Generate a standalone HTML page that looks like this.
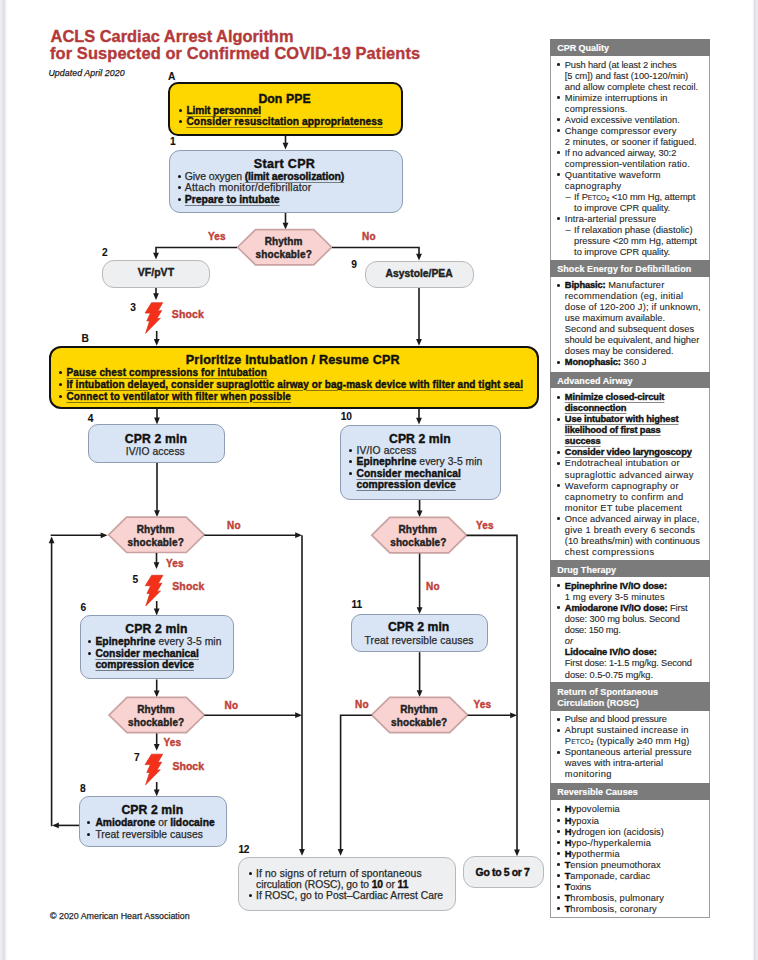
<!DOCTYPE html>
<html><head><meta charset="utf-8"><style>
*{margin:0;padding:0;box-sizing:border-box}
html,body{width:758px;height:960px;overflow:hidden;background:#fff;font-family:"Liberation Sans", sans-serif}
.t{position:absolute;white-space:nowrap;line-height:1;color:#222}
.t u{text-decoration:underline;text-decoration-thickness:1px;text-underline-offset:1.5px;text-decoration-color:rgba(20,20,20,.5)}
.t b{color:#111}
.tr{-webkit-text-stroke:0.25px currentColor}
.t b, .tb{-webkit-text-stroke:0.4px currentColor}
.b{position:absolute}
svg{position:absolute;left:0;top:0}
#edgeL{position:absolute;left:0;top:0;width:8px;height:960px;background:linear-gradient(to right,#f0f0f4 0px,#e6e6eb 2.5px,#dcdce2 4px,#f4f4f7 6px,#fff 8px)}
#edgeR{position:absolute;left:750px;top:0;width:8px;height:960px;background:linear-gradient(to right,#fff 2px,#f4f4f7 3.5px,#dcdce2 4.5px,#e6e6eb 6px,#f0f0f4 8px)}
.sc{font-size:0.72em}
sub{font-size:0.6em;vertical-align:-1px;line-height:0}

.pt{-webkit-text-stroke:0.12px currentColor}
.pt b{letter-spacing:-0.12px}
.t.hd{-webkit-text-stroke:0.15px currentColor}
.t.ti{-webkit-text-stroke:0.35px currentColor}
.t.lab{-webkit-text-stroke:0.1px currentColor}
</style></head><body>
<div id="edgeL"></div><div id="edgeR"></div>

<svg width="758" height="960" viewBox="0 0 758 960"><polyline points="285.5,135.5 285.5,143" fill="none" stroke="#1a1a1a" stroke-width="1.6" stroke-linejoin="miter" stroke-linecap="butt"/><polygon points="285.50,149.50 282.60,142.70 288.40,142.70" fill="#1a1a1a"/><polyline points="285.5,212.7 285.5,223" fill="none" stroke="#1a1a1a" stroke-width="1.6" stroke-linejoin="miter" stroke-linecap="butt"/><polygon points="285.50,229.50 282.60,222.70 288.40,222.70" fill="#1a1a1a"/><polygon points="237.50,247.25 255.50,229.70 313.70,229.70 331.70,247.25 313.70,264.80 255.50,264.80" fill="#f9d3d2" stroke="#c9a2a2" stroke-width="1.7"/><polyline points="237,247.5 156,247.5 156,253" fill="none" stroke="#1a1a1a" stroke-width="1.6" stroke-linejoin="miter" stroke-linecap="butt"/><polygon points="156.00,259.50 153.10,252.70 158.90,252.70" fill="#1a1a1a"/><polyline points="332,247.5 419,247.5 419,254" fill="none" stroke="#1a1a1a" stroke-width="1.6" stroke-linejoin="miter" stroke-linecap="butt"/><polygon points="419.00,260.50 416.10,253.70 421.90,253.70" fill="#1a1a1a"/><polyline points="156,287.5 156,294" fill="none" stroke="#1a1a1a" stroke-width="1.6" stroke-linejoin="miter" stroke-linecap="butt"/><polygon points="156.00,300.00 153.10,293.20 158.90,293.20" fill="#1a1a1a"/><polygon points="151.50,302.70 162.70,302.70 157.90,311.10 161.70,310.50 156.90,318.80 160.30,318.30 145.60,333.30 149.60,321.00 146.80,320.90 150.40,313.10 145.10,313.10" fill="#f4301a" stroke="#d8301c" stroke-width="0.7" stroke-linejoin="miter"/><polyline points="156.7,331 156.7,339" fill="none" stroke="#1a1a1a" stroke-width="1.6" stroke-linejoin="miter" stroke-linecap="butt"/><polygon points="156.70,345.80 153.80,339.00 159.60,339.00" fill="#1a1a1a"/><polyline points="419,288 419,339" fill="none" stroke="#1a1a1a" stroke-width="1.6" stroke-linejoin="miter" stroke-linecap="butt"/><polygon points="419.00,345.80 416.10,339.00 421.90,339.00" fill="#1a1a1a"/><polyline points="157,408.5 157,418" fill="none" stroke="#1a1a1a" stroke-width="1.6" stroke-linejoin="miter" stroke-linecap="butt"/><polygon points="157.00,424.40 154.10,417.60 159.90,417.60" fill="#1a1a1a"/><polyline points="419,408.5 419,418" fill="none" stroke="#1a1a1a" stroke-width="1.6" stroke-linejoin="miter" stroke-linecap="butt"/><polygon points="419.00,424.50 416.10,417.70 421.90,417.70" fill="#1a1a1a"/><polyline points="157,462.4 157,511" fill="none" stroke="#1a1a1a" stroke-width="1.6" stroke-linejoin="miter" stroke-linecap="butt"/><polygon points="157.00,517.00 154.10,510.20 159.90,510.20" fill="#1a1a1a"/><polyline points="419.6,500 419.6,511" fill="none" stroke="#1a1a1a" stroke-width="1.6" stroke-linejoin="miter" stroke-linecap="butt"/><polygon points="419.60,517.20 416.70,510.40 422.50,510.40" fill="#1a1a1a"/><polygon points="108.60,534.85 126.60,517.20 186.30,517.20 204.30,534.85 186.30,552.50 126.60,552.50" fill="#f9d3d2" stroke="#c9a2a2" stroke-width="1.7"/><polygon points="371.80,535.15 389.80,517.40 448.60,517.40 466.60,535.15 448.60,552.90 389.80,552.90" fill="#f9d3d2" stroke="#c9a2a2" stroke-width="1.7"/><polyline points="204.3,535.2 296,535.2" fill="none" stroke="#1a1a1a" stroke-width="1.6" stroke-linejoin="miter" stroke-linecap="butt"/><polygon points="302.00,535.20 295.20,532.30 295.20,538.10" fill="#1a1a1a"/><polyline points="302,535.2 302,850" fill="none" stroke="#1a1a1a" stroke-width="1.6" stroke-linejoin="miter" stroke-linecap="butt"/><polygon points="302.00,855.70 299.10,848.90 304.90,848.90" fill="#1a1a1a"/><polyline points="466.6,535.4 517,535.4 517,850" fill="none" stroke="#1a1a1a" stroke-width="1.6" stroke-linejoin="miter" stroke-linecap="butt"/><polygon points="517.00,856.30 514.10,849.50 519.90,849.50" fill="#1a1a1a"/><polyline points="156.5,553 156.5,563" fill="none" stroke="#1a1a1a" stroke-width="1.6" stroke-linejoin="miter" stroke-linecap="butt"/><polygon points="156.50,569.00 153.60,562.20 159.40,562.20" fill="#1a1a1a"/><polygon points="151.70,575.30 162.90,575.30 158.10,583.70 161.90,583.10 157.10,591.40 160.50,590.90 145.80,605.90 149.80,593.60 147.00,593.50 150.60,585.70 145.30,585.70" fill="#f4301a" stroke="#d8301c" stroke-width="0.7" stroke-linejoin="miter"/><polyline points="156.7,601 156.7,609" fill="none" stroke="#1a1a1a" stroke-width="1.6" stroke-linejoin="miter" stroke-linecap="butt"/><polygon points="156.70,615.40 153.80,608.60 159.60,608.60" fill="#1a1a1a"/><polyline points="419.6,553.5 419.6,608" fill="none" stroke="#1a1a1a" stroke-width="1.6" stroke-linejoin="miter" stroke-linecap="butt"/><polygon points="419.60,614.00 416.70,607.20 422.50,607.20" fill="#1a1a1a"/><polyline points="156.7,679.5 156.7,691" fill="none" stroke="#1a1a1a" stroke-width="1.6" stroke-linejoin="miter" stroke-linecap="butt"/><polygon points="156.70,697.20 153.80,690.40 159.60,690.40" fill="#1a1a1a"/><polygon points="109.00,715.05 127.00,697.40 186.40,697.40 204.40,715.05 186.40,732.70 127.00,732.70" fill="#f9d3d2" stroke="#c9a2a2" stroke-width="1.7"/><polyline points="204.4,715.2 296,715.2" fill="none" stroke="#1a1a1a" stroke-width="1.6" stroke-linejoin="miter" stroke-linecap="butt"/><polygon points="302.00,715.20 295.20,712.30 295.20,718.10" fill="#1a1a1a"/><polyline points="156.7,733.4 156.7,744" fill="none" stroke="#1a1a1a" stroke-width="1.6" stroke-linejoin="miter" stroke-linecap="butt"/><polygon points="156.70,750.70 153.80,743.90 159.60,743.90" fill="#1a1a1a"/><polygon points="151.50,754.20 162.70,754.20 157.90,762.60 161.70,762.00 156.90,770.30 160.30,769.80 145.60,784.80 149.60,772.50 146.80,772.40 150.40,764.60 145.10,764.60" fill="#f4301a" stroke="#d8301c" stroke-width="0.7" stroke-linejoin="miter"/><polyline points="156.7,782 156.7,790" fill="none" stroke="#1a1a1a" stroke-width="1.6" stroke-linejoin="miter" stroke-linecap="butt"/><polygon points="156.70,796.30 153.80,789.50 159.60,789.50" fill="#1a1a1a"/><polyline points="419.6,652.2 419.6,691" fill="none" stroke="#1a1a1a" stroke-width="1.6" stroke-linejoin="miter" stroke-linecap="butt"/><polygon points="419.60,697.10 416.70,690.30 422.50,690.30" fill="#1a1a1a"/><polygon points="371.70,714.95 389.70,697.30 449.70,697.30 467.70,714.95 449.70,732.60 389.70,732.60" fill="#f9d3d2" stroke="#c9a2a2" stroke-width="1.7"/><polyline points="371.7,715.3 340.6,715.3 340.6,850" fill="none" stroke="#1a1a1a" stroke-width="1.6" stroke-linejoin="miter" stroke-linecap="butt"/><polygon points="340.60,855.70 337.70,848.90 343.50,848.90" fill="#1a1a1a"/><polyline points="467.7,715.3 511,715.3" fill="none" stroke="#1a1a1a" stroke-width="1.6" stroke-linejoin="miter" stroke-linecap="butt"/><polygon points="517.00,715.30 510.20,712.40 510.20,718.20" fill="#1a1a1a"/><polyline points="79,825.4 58,825.4" fill="none" stroke="#1a1a1a" stroke-width="1.6" stroke-linejoin="miter" stroke-linecap="butt"/><polygon points="52.00,825.40 58.80,822.50 58.80,828.30" fill="#1a1a1a"/><polyline points="51.6,826.3 51.6,543" fill="none" stroke="#1a1a1a" stroke-width="1.6" stroke-linejoin="miter" stroke-linecap="butt"/><polygon points="51.60,536.40 48.70,543.20 54.50,543.20" fill="#1a1a1a"/><polyline points="50.7,535.3 101,535.3" fill="none" stroke="#1a1a1a" stroke-width="1.6" stroke-linejoin="miter" stroke-linecap="butt"/><polygon points="107.50,535.30 100.70,532.40 100.70,538.20" fill="#1a1a1a"/></svg>
<div class="b" style="left:168px;top:82.2px;width:235.20px;height:53.80px;background:#fed700;border:2.7px solid #111;border-radius:10px;"></div><div class="b" style="left:169px;top:149.8px;width:233.50px;height:63.00px;background:#d9e5f5;border:1.7px solid #8d9db4;border-radius:11px;"></div><div class="b" style="left:102px;top:259.5px;width:107.80px;height:28.30px;background:#eeeff1;border:1.8px solid #b9b9b9;border-radius:12px;"></div><div class="b" style="left:365.4px;top:261px;width:108.20px;height:27.20px;background:#eeeff1;border:1.8px solid #b9b9b9;border-radius:12px;"></div><div class="b" style="left:49.3px;top:345.5px;width:489.50px;height:63.60px;background:#fed700;border:2.8px solid #111;border-radius:12px;"></div><div class="b" style="left:88.4px;top:424.2px;width:136.80px;height:38.70px;background:#d9e5f5;border:1.7px solid #8d9db4;border-radius:10px;"></div><div class="b" style="left:340px;top:424.5px;width:160.50px;height:75.50px;background:#d9e5f5;border:1.7px solid #8d9db4;border-radius:10px;"></div><div class="b" style="left:79.5px;top:615.4px;width:154.40px;height:64.10px;background:#d9e5f5;border:1.7px solid #8d9db4;border-radius:10px;"></div><div class="b" style="left:351.1px;top:613.7px;width:136.70px;height:38.50px;background:#d9e5f5;border:1.7px solid #8d9db4;border-radius:10px;"></div><div class="b" style="left:79px;top:796.3px;width:147.50px;height:51.10px;background:#d9e5f5;border:1.7px solid #8d9db4;border-radius:10px;"></div><div class="b" style="left:237.6px;top:856.6px;width:218.40px;height:54.30px;background:#eeeff1;border:1.7px solid #b9b9b9;border-radius:11px;"></div><div class="b" style="left:463.4px;top:856.3px;width:80.20px;height:31.40px;background:#eeeff1;border:1.9px solid #b9b9b9;border-radius:12px;"></div><div class="b" style="left:550px;top:38.6px;width:159.5px;height:879.4px;border:1.3px solid #9c9c9c;background:#fff"></div><div class="b" style="left:550px;top:38.6px;width:159.5px;height:17.10px;background:#7b7b7b"></div><div class="b" style="left:550px;top:260px;width:159.5px;height:17.00px;background:#7b7b7b"></div><div class="b" style="left:550px;top:371.6px;width:159.5px;height:16.90px;background:#7b7b7b"></div><div class="b" style="left:550px;top:560.3px;width:159.5px;height:16.90px;background:#7b7b7b"></div><div class="b" style="left:550px;top:682.4px;width:159.5px;height:28.50px;background:#7b7b7b"></div><div class="b" style="left:550px;top:782.9px;width:159.5px;height:17.50px;background:#7b7b7b"></div>
<div class="b" style="left:179px;top:109px;width:3.1px;height:3.1px;border-radius:50%;background:#111"></div><div class="b" style="left:179px;top:120px;width:3.1px;height:3.1px;border-radius:50%;background:#111"></div><div class="b" style="left:178px;top:175px;width:3.1px;height:3.1px;border-radius:50%;background:#111"></div><div class="b" style="left:178px;top:186px;width:3.1px;height:3.1px;border-radius:50%;background:#111"></div><div class="b" style="left:178px;top:198px;width:3.1px;height:3.1px;border-radius:50%;background:#111"></div><div class="b" style="left:59px;top:371px;width:3.1px;height:3.1px;border-radius:50%;background:#111"></div><div class="b" style="left:59px;top:383px;width:3.1px;height:3.1px;border-radius:50%;background:#111"></div><div class="b" style="left:59px;top:395px;width:3.1px;height:3.1px;border-radius:50%;background:#111"></div><div class="b" style="left:349px;top:449px;width:3.1px;height:3.1px;border-radius:50%;background:#111"></div><div class="b" style="left:349px;top:460px;width:3.1px;height:3.1px;border-radius:50%;background:#111"></div><div class="b" style="left:349px;top:472px;width:3.1px;height:3.1px;border-radius:50%;background:#111"></div><div class="b" style="left:88px;top:640px;width:3.1px;height:3.1px;border-radius:50%;background:#111"></div><div class="b" style="left:88px;top:652px;width:3.1px;height:3.1px;border-radius:50%;background:#111"></div><div class="b" style="left:87px;top:821px;width:3.1px;height:3.1px;border-radius:50%;background:#111"></div><div class="b" style="left:87px;top:833px;width:3.1px;height:3.1px;border-radius:50%;background:#111"></div><div class="b" style="left:249px;top:872px;width:3.1px;height:3.1px;border-radius:50%;background:#111"></div><div class="b" style="left:249px;top:894px;width:3.1px;height:3.1px;border-radius:50%;background:#111"></div><div class="b" style="left:557px;top:63px;width:2.6px;height:2.6px;border-radius:50%;background:#222"></div><div class="b" style="left:557px;top:96px;width:2.6px;height:2.6px;border-radius:50%;background:#222"></div><div class="b" style="left:557px;top:118px;width:2.6px;height:2.6px;border-radius:50%;background:#222"></div><div class="b" style="left:557px;top:129px;width:2.6px;height:2.6px;border-radius:50%;background:#222"></div><div class="b" style="left:557px;top:151px;width:2.6px;height:2.6px;border-radius:50%;background:#222"></div><div class="b" style="left:557px;top:173px;width:2.6px;height:2.6px;border-radius:50%;background:#222"></div><div class="b" style="left:557px;top:217px;width:2.6px;height:2.6px;border-radius:50%;background:#222"></div><div class="b" style="left:557px;top:284px;width:2.6px;height:2.6px;border-radius:50%;background:#222"></div><div class="b" style="left:557px;top:361px;width:2.6px;height:2.6px;border-radius:50%;background:#222"></div><div class="b" style="left:557px;top:396px;width:2.6px;height:2.6px;border-radius:50%;background:#222"></div><div class="b" style="left:557px;top:418px;width:2.6px;height:2.6px;border-radius:50%;background:#222"></div><div class="b" style="left:557px;top:451px;width:2.6px;height:2.6px;border-radius:50%;background:#222"></div><div class="b" style="left:557px;top:462px;width:2.6px;height:2.6px;border-radius:50%;background:#222"></div><div class="b" style="left:557px;top:484px;width:2.6px;height:2.6px;border-radius:50%;background:#222"></div><div class="b" style="left:557px;top:517px;width:2.6px;height:2.6px;border-radius:50%;background:#222"></div><div class="b" style="left:557px;top:584px;width:2.6px;height:2.6px;border-radius:50%;background:#222"></div><div class="b" style="left:557px;top:606px;width:2.6px;height:2.6px;border-radius:50%;background:#222"></div><div class="b" style="left:557px;top:718px;width:2.6px;height:2.6px;border-radius:50%;background:#222"></div><div class="b" style="left:557px;top:729px;width:2.6px;height:2.6px;border-radius:50%;background:#222"></div><div class="b" style="left:557px;top:751px;width:2.6px;height:2.6px;border-radius:50%;background:#222"></div><div class="b" style="left:557px;top:808px;width:2.6px;height:2.6px;border-radius:50%;background:#222"></div><div class="b" style="left:557px;top:819px;width:2.6px;height:2.6px;border-radius:50%;background:#222"></div><div class="b" style="left:557px;top:830px;width:2.6px;height:2.6px;border-radius:50%;background:#222"></div><div class="b" style="left:557px;top:841px;width:2.6px;height:2.6px;border-radius:50%;background:#222"></div><div class="b" style="left:557px;top:852px;width:2.6px;height:2.6px;border-radius:50%;background:#222"></div><div class="b" style="left:557px;top:863px;width:2.6px;height:2.6px;border-radius:50%;background:#222"></div><div class="b" style="left:557px;top:874px;width:2.6px;height:2.6px;border-radius:50%;background:#222"></div><div class="b" style="left:557px;top:885px;width:2.6px;height:2.6px;border-radius:50%;background:#222"></div><div class="b" style="left:557px;top:896px;width:2.6px;height:2.6px;border-radius:50%;background:#222"></div><div class="b" style="left:557px;top:907px;width:2.6px;height:2.6px;border-radius:50%;background:#222"></div>
<div id="t0" class="t ti tb" style="left:50.60px;top:27.82px;font-size:16.4px;color:#b4393a;font-weight:bold;">ACLS Cardiac Arrest Algorithm</div><div id="t1" class="t ti tb" style="left:50.00px;top:45.42px;font-size:16.4px;color:#b4393a;font-weight:bold;letter-spacing:0.114px;">for Suspected or Confirmed COVID-19 Patients</div><div id="t2" class="t tr" style="left:48.39px;top:68.55px;font-size:8.8px;font-style:italic;letter-spacing:0.071px;">Updated April 2020</div><div id="t3" class="t lab tb" style="left:168.00px;top:72.17px;font-size:10.2px;color:#111;font-weight:bold;letter-spacing:-0.300px;">A</div><div id="t4" class="t lab tb" style="left:170.00px;top:137.17px;font-size:10.2px;color:#111;font-weight:bold;letter-spacing:-0.300px;">1</div><div id="t5" class="t lab tb" style="left:102.00px;top:248.37px;font-size:10.2px;color:#111;font-weight:bold;letter-spacing:-0.300px;">2</div><div id="t6" class="t lab tb" style="left:351.19px;top:259.57px;font-size:10.2px;color:#111;font-weight:bold;letter-spacing:-0.300px;">9</div><div id="t7" class="t lab tb" style="left:130.19px;top:303.17px;font-size:10.2px;color:#111;font-weight:bold;letter-spacing:-0.300px;">3</div><div id="t8" class="t lab tb" style="left:81.39px;top:334.07px;font-size:10.2px;color:#111;font-weight:bold;letter-spacing:-0.300px;">B</div><div id="t9" class="t lab tb" style="left:87.79px;top:413.87px;font-size:10.2px;color:#111;font-weight:bold;letter-spacing:-0.300px;">4</div><div id="t10" class="t lab tb" style="left:340.79px;top:412.07px;font-size:10.2px;color:#111;font-weight:bold;letter-spacing:-0.300px;">10</div><div id="t11" class="t lab tb" style="left:132.60px;top:574.67px;font-size:10.2px;color:#111;font-weight:bold;letter-spacing:-0.300px;">5</div><div id="t12" class="t lab tb" style="left:80.39px;top:602.97px;font-size:10.2px;color:#111;font-weight:bold;letter-spacing:-0.300px;">6</div><div id="t13" class="t lab tb" style="left:351.60px;top:599.67px;font-size:10.2px;color:#111;font-weight:bold;letter-spacing:-0.300px;">11</div><div id="t14" class="t lab tb" style="left:134.00px;top:753.17px;font-size:10.2px;color:#111;font-weight:bold;letter-spacing:-0.300px;">7</div><div id="t15" class="t lab tb" style="left:80.00px;top:783.67px;font-size:10.2px;color:#111;font-weight:bold;letter-spacing:-0.300px;">8</div><div id="t16" class="t lab tb" style="left:238.39px;top:844.77px;font-size:10.2px;color:#111;font-weight:bold;letter-spacing:-0.300px;">12</div><div id="t17" class="t tb" style="left:258.39px;top:93.49px;font-size:12.3px;color:#111;font-weight:bold;letter-spacing:0.050px;">Don PPE</div><div id="t18" class="t tb" style="left:186.40px;top:106.27px;font-size:10.2px;color:#111;font-weight:bold;letter-spacing:-0.086px;"><u>Limit personnel</u></div><div id="t19" class="t tb" style="left:186.40px;top:116.87px;font-size:10.2px;color:#111;font-weight:bold;letter-spacing:0.103px;"><u>Consider resuscitation appropriateness</u></div><div id="t20" class="t tb" style="left:253.79px;top:158.32px;font-size:12.5px;color:#111;font-weight:bold;letter-spacing:0.338px;">Start CPR</div><div id="t21" class="t tr" style="left:184.80px;top:170.91px;font-size:10.5px;color:#2b2b2b;letter-spacing:-0.118px;">Give oxygen <b><u>(limit aerosolization)</u></b></div><div id="t22" class="t tr" style="left:184.80px;top:182.11px;font-size:10.5px;color:#2b2b2b;letter-spacing:0.167px;">Attach monitor/defibrillator</div><div id="t23" class="t tr" style="left:184.80px;top:194.01px;font-size:10.5px;color:#111;letter-spacing:-0.044px;"><b><u>Prepare to intubate</u></b></div><div id="t24" class="t tb" style="left:264.79px;top:236.73px;font-size:10.0px;font-weight:bold;letter-spacing:0.060px;">Rhythm</div><div id="t25" class="t tb" style="left:255.60px;top:250.03px;font-size:10.0px;font-weight:bold;letter-spacing:0.133px;">shockable?</div><div id="t26" class="t tb" style="left:208.00px;top:232.03px;font-size:10px;color:#c0413a;font-weight:bold;letter-spacing:0.150px;">Yes</div><div id="t27" class="t tb" style="left:362.00px;top:232.03px;font-size:10px;color:#c0413a;font-weight:bold;letter-spacing:0.400px;">No</div><div id="t28" class="t tb" style="left:137.79px;top:267.11px;font-size:10.5px;font-weight:bold;letter-spacing:0.020px;">VF/pVT</div><div id="t29" class="t tb" style="left:385.60px;top:268.78px;font-size:10.3px;font-weight:bold;letter-spacing:0.009px;">Asystole/PEA</div><div id="t30" class="t tb" style="left:171.79px;top:309.11px;font-size:10.5px;color:#c0413a;font-weight:bold;letter-spacing:0.150px;">Shock</div><div id="t31" class="t tb" style="left:185.79px;top:353.53px;font-size:12.6px;color:#111;font-weight:bold;letter-spacing:0.182px;">Prioritize Intubation / Resume CPR</div><div id="t32" class="t tb" style="left:66.50px;top:367.64px;font-size:10.0px;color:#111;font-weight:bold;letter-spacing:0.113px;"><u>Pause chest compressions for intubation</u></div><div id="t33" class="t tb" style="left:66.50px;top:379.54px;font-size:10.0px;color:#111;font-weight:bold;letter-spacing:0.078px;"><u>If intubation delayed, consider supraglottic airway or bag-mask device with filter and tight seal</u></div><div id="t34" class="t tb" style="left:66.50px;top:391.54px;font-size:10.0px;color:#111;font-weight:bold;letter-spacing:0.120px;"><u>Connect to ventilator with filter when possible</u></div><div id="t35" class="t tb" style="left:124.79px;top:432.87px;font-size:12.2px;color:#111;font-weight:bold;letter-spacing:0.150px;">CPR 2 min</div><div id="t36" class="t tr" style="left:125.79px;top:446.78px;font-size:10.3px;color:#2b2b2b;letter-spacing:0.055px;">IV/IO access</div><div id="t37" class="t tb" style="left:389.00px;top:432.67px;font-size:12.2px;color:#111;font-weight:bold;letter-spacing:0.088px;">CPR 2 min</div><div id="t38" class="t tr" style="left:356.50px;top:445.68px;font-size:10.3px;color:#2b2b2b;letter-spacing:0.145px;">IV/IO access</div><div id="t39" class="t tr" style="left:356.50px;top:456.78px;font-size:10.3px;color:#2b2b2b;letter-spacing:0.042px;"><b>Epinephrine</b> every 3-5 min</div><div id="t40" class="t tr" style="left:356.50px;top:469.18px;font-size:10.3px;color:#111;letter-spacing:0.044px;"><b><u>Consider mechanical</u></b></div><div id="t41" class="t tr" style="left:356.50px;top:479.68px;font-size:10.3px;color:#111;letter-spacing:0.012px;"><b><u>compression device</u></b></div><div id="t42" class="t tb" style="left:136.79px;top:525.24px;font-size:10.0px;font-weight:bold;letter-spacing:0.060px;">Rhythm</div><div id="t43" class="t tb" style="left:127.60px;top:537.53px;font-size:10.0px;font-weight:bold;letter-spacing:0.133px;">shockable?</div><div id="t44" class="t tb" style="left:398.39px;top:525.43px;font-size:10.0px;font-weight:bold;letter-spacing:0.260px;">Rhythm</div><div id="t45" class="t tb" style="left:390.19px;top:537.74px;font-size:10.0px;font-weight:bold;letter-spacing:0.133px;">shockable?</div><div id="t46" class="t tb" style="left:227.00px;top:521.03px;font-size:10px;color:#c0413a;font-weight:bold;letter-spacing:0.400px;">No</div><div id="t47" class="t tb" style="left:476.00px;top:520.63px;font-size:10px;color:#c0413a;font-weight:bold;letter-spacing:0.150px;">Yes</div><div id="t48" class="t tb" style="left:166.00px;top:558.74px;font-size:10px;color:#c0413a;font-weight:bold;letter-spacing:0.150px;">Yes</div><div id="t49" class="t tb" style="left:172.19px;top:580.81px;font-size:10.5px;color:#c0413a;font-weight:bold;letter-spacing:0.150px;">Shock</div><div id="t50" class="t tb" style="left:426.00px;top:582.03px;font-size:10px;color:#c0413a;font-weight:bold;letter-spacing:0.400px;">No</div><div id="t51" class="t tb" style="left:125.19px;top:623.17px;font-size:12.2px;color:#111;font-weight:bold;letter-spacing:0.162px;">CPR 2 min</div><div id="t52" class="t tr" style="left:95.40px;top:636.58px;font-size:10.3px;color:#2b2b2b;letter-spacing:0.054px;"><b>Epinephrine</b> every 3-5 min</div><div id="t53" class="t tr" style="left:95.40px;top:648.88px;font-size:10.3px;color:#111;letter-spacing:-0.006px;"><b><u>Consider mechanical</u></b></div><div id="t54" class="t tr" style="left:95.40px;top:660.18px;font-size:10.3px;color:#111;letter-spacing:-0.029px;"><b><u>compression device</u></b></div><div id="t55" class="t tb" style="left:388.00px;top:620.97px;font-size:12.2px;color:#111;font-weight:bold;letter-spacing:0.037px;">CPR 2 min</div><div id="t56" class="t tr" style="left:364.60px;top:636.08px;font-size:10.3px;color:#2b2b2b;letter-spacing:0.100px;">Treat reversible causes</div><div id="t57" class="t tb" style="left:137.19px;top:705.43px;font-size:10.0px;font-weight:bold;letter-spacing:0.060px;">Rhythm</div><div id="t58" class="t tb" style="left:128.00px;top:717.74px;font-size:10.0px;font-weight:bold;letter-spacing:0.133px;">shockable?</div><div id="t59" class="t tb" style="left:224.39px;top:700.74px;font-size:10px;color:#c0413a;font-weight:bold;letter-spacing:0.400px;">No</div><div id="t60" class="t tb" style="left:163.60px;top:737.63px;font-size:10px;color:#c0413a;font-weight:bold;letter-spacing:0.150px;">Yes</div><div id="t61" class="t tb" style="left:172.39px;top:760.61px;font-size:10.5px;color:#c0413a;font-weight:bold;letter-spacing:0.050px;">Shock</div><div id="t62" class="t tb" style="left:400.19px;top:705.33px;font-size:10.0px;font-weight:bold;letter-spacing:0.060px;">Rhythm</div><div id="t63" class="t tb" style="left:391.00px;top:717.63px;font-size:10.0px;font-weight:bold;letter-spacing:0.133px;">shockable?</div><div id="t64" class="t tb" style="left:355.00px;top:699.74px;font-size:10px;color:#c0413a;font-weight:bold;letter-spacing:0.400px;">No</div><div id="t65" class="t tb" style="left:473.60px;top:699.74px;font-size:10px;color:#c0413a;font-weight:bold;letter-spacing:0.150px;">Yes</div><div id="t66" class="t tb" style="left:121.39px;top:804.07px;font-size:12.2px;color:#111;font-weight:bold;letter-spacing:0.100px;">CPR 2 min</div><div id="t67" class="t tr" style="left:95.40px;top:817.58px;font-size:10.3px;color:#2b2b2b;letter-spacing:-0.014px;"><b>Amiodarone</b> or <b>lidocaine</b></div><div id="t68" class="t tr" style="left:95.40px;top:830.28px;font-size:10.3px;color:#2b2b2b;letter-spacing:0.036px;">Treat reversible causes</div><div id="t69" class="t tr" style="left:256.10px;top:868.88px;font-size:10.3px;color:#2b2b2b;letter-spacing:0.117px;">If no signs of return of spontaneous</div><div id="t70" class="t tr" style="left:256.10px;top:879.98px;font-size:10.3px;color:#2b2b2b;letter-spacing:-0.067px;">circulation (ROSC), go to <b>10</b> or <b>11</b></div><div id="t71" class="t tr" style="left:256.10px;top:890.58px;font-size:10.3px;color:#2b2b2b;letter-spacing:0.011px;">If ROSC, go to Post–Cardiac Arrest Care</div><div id="t72" class="t tb" style="left:475.60px;top:867.11px;font-size:10.5px;color:#111;font-weight:bold;letter-spacing:-0.364px;">Go to 5 or 7</div><div id="t73" class="t tr" style="left:50.00px;top:912.47px;font-size:8.9px;color:#2b2b2b;letter-spacing:-0.003px;">© 2020 American Heart Association</div><div id="t74" class="t hd tb" style="left:557.19px;top:44.28px;font-size:9.0px;color:#fff;font-weight:bold;letter-spacing:-0.025px;">CPR Quality</div><div id="t75" class="t pt tr" style="left:564.80px;top:61.03px;font-size:9.3px;color:#2a2a2a;letter-spacing:-0.126px;">Push hard (at least 2 inches</div><div id="t76" class="t pt tr" style="left:564.80px;top:72.03px;font-size:9.3px;color:#2a2a2a;letter-spacing:-0.041px;">[5 cm]) and fast (100-120/min)</div><div id="t77" class="t pt tr" style="left:564.80px;top:83.03px;font-size:9.3px;color:#2a2a2a;letter-spacing:0.052px;">and allow complete chest recoil.</div><div id="t78" class="t pt tr" style="left:564.80px;top:94.03px;font-size:9.3px;color:#2a2a2a;letter-spacing:0.104px;">Minimize interruptions in</div><div id="t79" class="t pt tr" style="left:564.80px;top:105.03px;font-size:9.3px;color:#2a2a2a;letter-spacing:0.217px;">compressions.</div><div id="t80" class="t pt tr" style="left:564.80px;top:116.03px;font-size:9.3px;color:#2a2a2a;letter-spacing:0.056px;">Avoid excessive ventilation.</div><div id="t81" class="t pt tr" style="left:564.80px;top:127.03px;font-size:9.3px;color:#2a2a2a;letter-spacing:0.114px;">Change compressor every</div><div id="t82" class="t pt tr" style="left:564.80px;top:138.03px;font-size:9.3px;color:#2a2a2a;letter-spacing:0.047px;">2 minutes, or sooner if fatigued.</div><div id="t83" class="t pt tr" style="left:564.80px;top:149.03px;font-size:9.3px;color:#2a2a2a;letter-spacing:-0.058px;">If no advanced airway, 30:2</div><div id="t84" class="t pt tr" style="left:564.80px;top:160.03px;font-size:9.3px;color:#2a2a2a;letter-spacing:0.138px;">compression-ventilation ratio.</div><div id="t85" class="t pt tr" style="left:564.80px;top:171.03px;font-size:9.3px;color:#2a2a2a;letter-spacing:0.160px;">Quantitative waveform</div><div id="t86" class="t pt tr" style="left:564.80px;top:182.03px;font-size:9.3px;color:#2a2a2a;letter-spacing:0.270px;">capnography</div><div id="t87" class="t pt tr" style="left:565.50px;top:193.03px;font-size:9.3px;color:#2a2a2a;">–</div><div id="t88" class="t pt tr" style="left:574.10px;top:193.03px;font-size:9.3px;color:#2a2a2a;letter-spacing:-0.056px;">If P<span class='sc'>ETCO</span><sub>2</sub> &lt;10 mm Hg, attempt</div><div id="t89" class="t pt tr" style="left:574.10px;top:204.03px;font-size:9.3px;color:#2a2a2a;letter-spacing:-0.041px;">to improve CPR quality.</div><div id="t90" class="t pt tr" style="left:564.80px;top:215.03px;font-size:9.3px;color:#2a2a2a;letter-spacing:0.118px;">Intra-arterial pressure</div><div id="t91" class="t pt tr" style="left:565.50px;top:226.03px;font-size:9.3px;color:#2a2a2a;">–</div><div id="t92" class="t pt tr" style="left:574.10px;top:226.03px;font-size:9.3px;color:#2a2a2a;letter-spacing:0.003px;">If relaxation phase (diastolic)</div><div id="t93" class="t pt tr" style="left:574.10px;top:237.03px;font-size:9.3px;color:#2a2a2a;letter-spacing:-0.015px;">pressure &lt;20 mm Hg, attempt</div><div id="t94" class="t pt tr" style="left:574.10px;top:248.03px;font-size:9.3px;color:#2a2a2a;letter-spacing:-0.041px;">to improve CPR quality.</div><div id="t95" class="t hd tb" style="left:557.19px;top:264.68px;font-size:9.0px;color:#fff;font-weight:bold;letter-spacing:0.067px;">Shock Energy for Defibrillation</div><div id="t96" class="t pt tr" style="left:564.80px;top:280.63px;font-size:9.3px;color:#2a2a2a;letter-spacing:0.110px;"><b>Biphasic:</b> Manufacturer</div><div id="t97" class="t pt tr" style="left:564.80px;top:291.63px;font-size:9.3px;color:#2a2a2a;letter-spacing:0.258px;">recommendation (eg, initial</div><div id="t98" class="t pt tr" style="left:564.80px;top:302.63px;font-size:9.3px;color:#2a2a2a;letter-spacing:0.203px;">dose of 120-200 J); if unknown,</div><div id="t99" class="t pt tr" style="left:564.80px;top:313.63px;font-size:9.3px;color:#2a2a2a;letter-spacing:0.029px;">use maximum available.</div><div id="t100" class="t pt tr" style="left:564.80px;top:324.63px;font-size:9.3px;color:#2a2a2a;letter-spacing:0.065px;">Second and subsequent doses</div><div id="t101" class="t pt tr" style="left:564.80px;top:335.63px;font-size:9.3px;color:#2a2a2a;letter-spacing:0.003px;">should be equivalent, and higher</div><div id="t102" class="t pt tr" style="left:564.80px;top:346.63px;font-size:9.3px;color:#2a2a2a;letter-spacing:0.013px;">doses may be considered.</div><div id="t103" class="t pt tr" style="left:564.80px;top:357.63px;font-size:9.3px;color:#2a2a2a;letter-spacing:0.056px;"><b>Monophasic:</b> 360 J</div><div id="t104" class="t hd tb" style="left:557.19px;top:377.28px;font-size:9.0px;color:#fff;font-weight:bold;letter-spacing:0.043px;">Advanced Airway</div><div id="t105" class="t pt tr" style="left:564.80px;top:393.23px;font-size:9.3px;color:#2a2a2a;letter-spacing:0.164px;"><b><u>Minimize closed-circuit</u></b></div><div id="t106" class="t pt tr" style="left:564.80px;top:404.29px;font-size:9.3px;color:#2a2a2a;letter-spacing:0.083px;"><b><u>disconnection</u></b></div><div id="t107" class="t pt tr" style="left:564.80px;top:415.35px;font-size:9.3px;color:#2a2a2a;letter-spacing:0.196px;"><b><u>Use intubator with highest</u></b></div><div id="t108" class="t pt tr" style="left:564.80px;top:426.41px;font-size:9.3px;color:#2a2a2a;letter-spacing:0.230px;"><b><u>likelihood of first pass</u></b></div><div id="t109" class="t pt tr" style="left:564.80px;top:437.47px;font-size:9.3px;color:#2a2a2a;letter-spacing:0.317px;"><b><u>success</u></b></div><div id="t110" class="t pt tr" style="left:564.80px;top:447.53px;font-size:9.3px;color:#2a2a2a;letter-spacing:0.050px;"><b><u>Consider video laryngoscopy</u></b></div><div id="t111" class="t pt tr" style="left:564.80px;top:458.59px;font-size:9.3px;color:#2a2a2a;letter-spacing:0.248px;">Endotracheal intubation or</div><div id="t112" class="t pt tr" style="left:564.80px;top:470.65px;font-size:9.3px;color:#2a2a2a;letter-spacing:0.319px;">supraglottic advanced airway</div><div id="t113" class="t pt tr" style="left:564.80px;top:481.71px;font-size:9.3px;color:#2a2a2a;letter-spacing:0.205px;">Waveform capnography or</div><div id="t114" class="t pt tr" style="left:564.80px;top:492.77px;font-size:9.3px;color:#2a2a2a;letter-spacing:0.350px;">capnometry to confirm and</div><div id="t115" class="t pt tr" style="left:564.80px;top:503.83px;font-size:9.3px;color:#2a2a2a;letter-spacing:0.238px;">monitor ET tube placement</div><div id="t116" class="t pt tr" style="left:564.80px;top:514.89px;font-size:9.3px;color:#2a2a2a;letter-spacing:0.093px;">Once advanced airway in place,</div><div id="t117" class="t pt tr" style="left:564.80px;top:525.95px;font-size:9.3px;color:#2a2a2a;letter-spacing:0.214px;">give 1 breath every 6 seconds</div><div id="t118" class="t pt tr" style="left:564.80px;top:537.01px;font-size:9.3px;color:#2a2a2a;letter-spacing:0.026px;">(10 breaths/min) with continuous</div><div id="t119" class="t pt tr" style="left:564.80px;top:548.07px;font-size:9.3px;color:#2a2a2a;letter-spacing:0.418px;">chest compressions</div><div id="t120" class="t hd tb" style="left:557.19px;top:565.98px;font-size:9.0px;color:#fff;font-weight:bold;letter-spacing:0.036px;">Drug Therapy</div><div id="t121" class="t pt tr" style="left:564.80px;top:581.93px;font-size:9.3px;color:#2a2a2a;letter-spacing:0.155px;"><b>Epinephrine IV/IO dose:</b></div><div id="t122" class="t pt tr" style="left:564.80px;top:593.02px;font-size:9.3px;color:#2a2a2a;letter-spacing:0.124px;">1 mg every 3-5 minutes</div><div id="t123" class="t pt tr" style="left:564.80px;top:604.11px;font-size:9.3px;color:#2a2a2a;letter-spacing:-0.133px;"><b>Amiodarone IV/IO dose:</b> First</div><div id="t124" class="t pt tr" style="left:564.80px;top:615.20px;font-size:9.3px;color:#2a2a2a;letter-spacing:-0.104px;">dose: 300 mg bolus. Second</div><div id="t125" class="t pt tr" style="left:564.80px;top:626.29px;font-size:9.3px;color:#2a2a2a;letter-spacing:-0.242px;">dose: 150 mg.</div><div id="t126" class="t pt tr" style="left:564.80px;top:637.38px;font-size:9.3px;color:#2a2a2a;letter-spacing:0.080px;"><i>or</i></div><div id="t127" class="t pt tr" style="left:564.80px;top:648.47px;font-size:9.3px;color:#2a2a2a;letter-spacing:-0.015px;"><b>Lidocaine IV/IO dose:</b></div><div id="t128" class="t pt tr" style="left:564.80px;top:658.56px;font-size:9.3px;color:#2a2a2a;letter-spacing:-0.157px;">First dose: 1-1.5 mg/kg. Second</div><div id="t129" class="t pt tr" style="left:564.80px;top:670.65px;font-size:9.3px;color:#2a2a2a;letter-spacing:-0.085px;">dose: 0.5-0.75 mg/kg.</div><div id="t130" class="t hd tb" style="left:557.19px;top:688.08px;font-size:9.0px;color:#fff;font-weight:bold;letter-spacing:0.065px;">Return of Spontaneous</div><div id="t131" class="t hd tb" style="left:557.19px;top:699.08px;font-size:9.0px;color:#fff;font-weight:bold;">Circulation (ROSC)</div><div id="t132" class="t pt tr" style="left:564.80px;top:714.63px;font-size:9.3px;color:#2a2a2a;letter-spacing:-0.148px;">Pulse and blood pressure</div><div id="t133" class="t pt tr" style="left:564.80px;top:725.53px;font-size:9.3px;color:#2a2a2a;letter-spacing:0.233px;">Abrupt sustained increase in</div><div id="t134" class="t pt tr" style="left:564.80px;top:737.43px;font-size:9.3px;color:#2a2a2a;letter-spacing:0.159px;">P<span class='sc'>ETCO</span><sub>2</sub> (typically ≥40 mm Hg)</div><div id="t135" class="t pt tr" style="left:564.80px;top:748.33px;font-size:9.3px;color:#2a2a2a;letter-spacing:0.082px;">Spontaneous arterial pressure</div><div id="t136" class="t pt tr" style="left:564.80px;top:759.23px;font-size:9.3px;color:#2a2a2a;letter-spacing:0.025px;">waves with intra-arterial</div><div id="t137" class="t pt tr" style="left:564.80px;top:770.13px;font-size:9.3px;color:#2a2a2a;letter-spacing:0.356px;">monitoring</div><div id="t138" class="t hd tb" style="left:557.19px;top:787.58px;font-size:9.0px;color:#fff;font-weight:bold;letter-spacing:0.031px;">Reversible Causes</div><div id="t139" class="t pt tr" style="left:564.80px;top:804.63px;font-size:9.3px;color:#2a2a2a;letter-spacing:0.150px;"><b>H</b>ypovolemia</div><div id="t140" class="t pt tr" style="left:564.80px;top:816.65px;font-size:9.3px;color:#2a2a2a;letter-spacing:0.150px;"><b>H</b>ypoxia</div><div id="t141" class="t pt tr" style="left:564.80px;top:827.67px;font-size:9.3px;color:#2a2a2a;letter-spacing:0.073px;"><b>H</b>ydrogen ion (acidosis)</div><div id="t142" class="t pt tr" style="left:564.80px;top:838.69px;font-size:9.3px;color:#2a2a2a;letter-spacing:0.218px;"><b>H</b>ypo-/hyperkalemia</div><div id="t143" class="t pt tr" style="left:564.80px;top:849.71px;font-size:9.3px;color:#2a2a2a;letter-spacing:0.250px;"><b>H</b>ypothermia</div><div id="t144" class="t pt tr" style="left:564.80px;top:860.73px;font-size:9.3px;color:#2a2a2a;letter-spacing:0.053px;"><b>T</b>ension pneumothorax</div><div id="t145" class="t pt tr" style="left:564.80px;top:871.75px;font-size:9.3px;color:#2a2a2a;letter-spacing:0.041px;"><b>T</b>amponade, cardiac</div><div id="t146" class="t pt tr" style="left:564.80px;top:882.77px;font-size:9.3px;color:#2a2a2a;letter-spacing:-0.240px;"><b>T</b>oxins</div><div id="t147" class="t pt tr" style="left:564.80px;top:893.79px;font-size:9.3px;color:#2a2a2a;letter-spacing:0.110px;"><b>T</b>hrombosis, pulmonary</div><div id="t148" class="t pt tr" style="left:564.80px;top:904.81px;font-size:9.3px;color:#2a2a2a;letter-spacing:0.121px;"><b>T</b>hrombosis, coronary</div>
</body></html>
